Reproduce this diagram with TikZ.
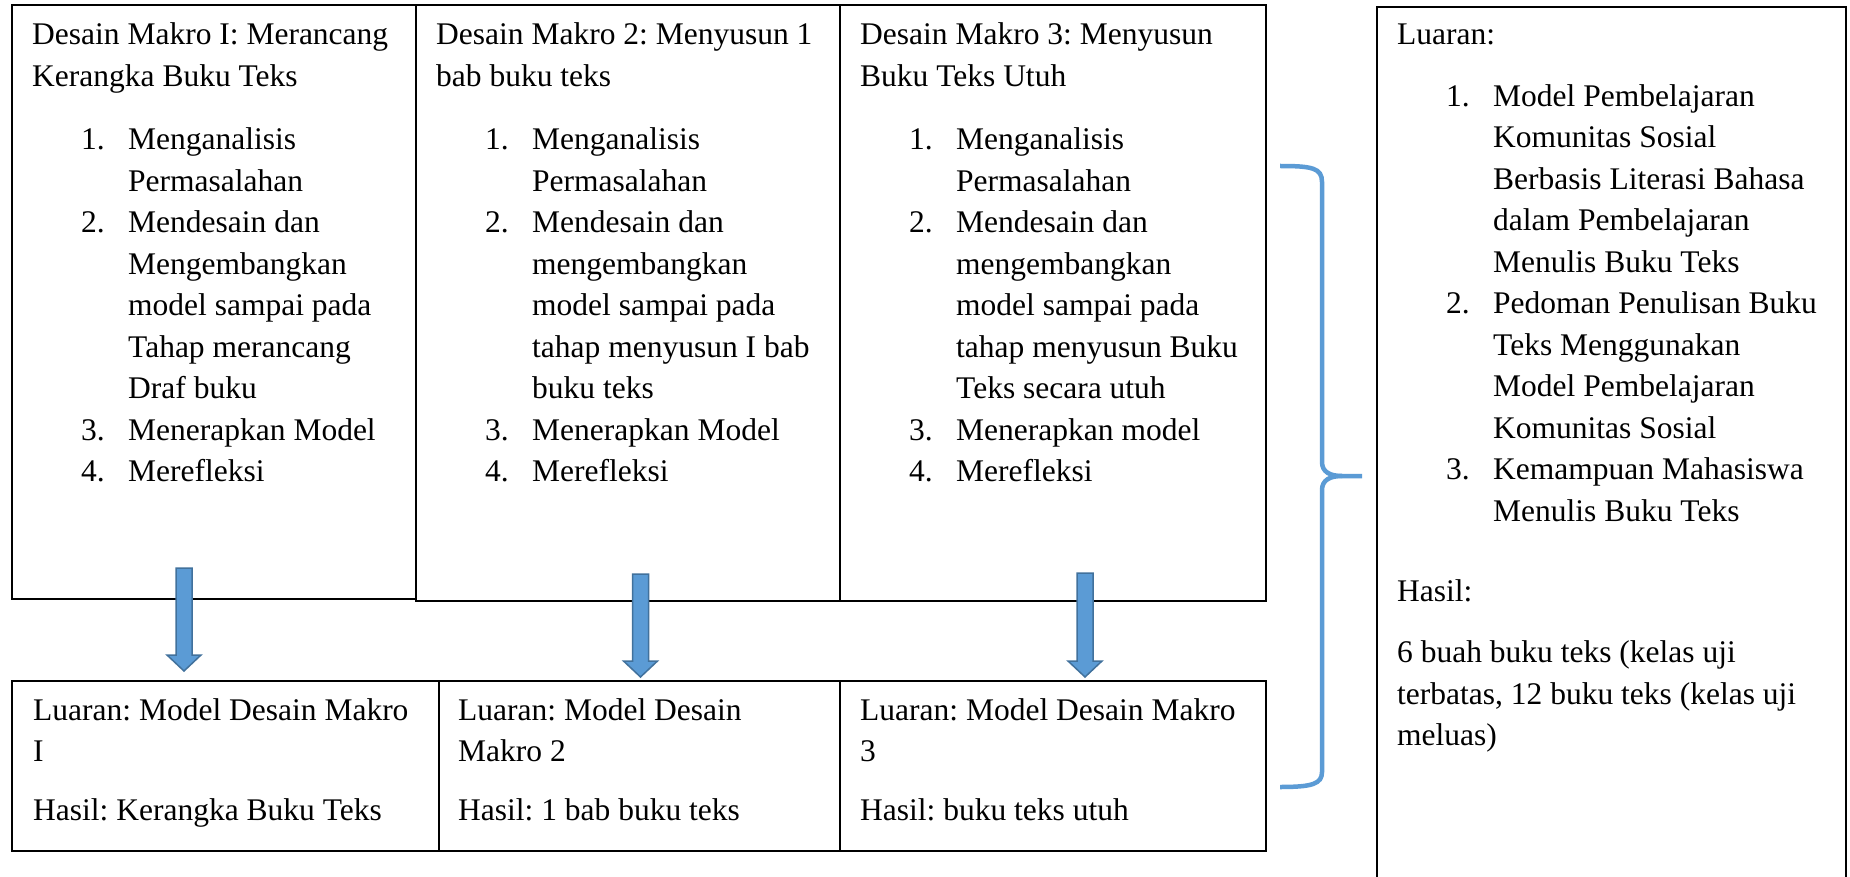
\documentclass[tikz,border=0pt]{standalone}
\usepackage{fontspec}
\setmainfont{Liberation Serif}
\usetikzlibrary{calc}
\definecolor{bracecol}{HTML}{5B9BD5}
\definecolor{arrowfill}{HTML}{5B9BD5}
\definecolor{arrowline}{HTML}{41719C}
\newcommand{\numitem}[2]{\hspace*{49pt}\makebox[47pt][l]{#1}#2}
\newcommand{\contitem}[1]{\hspace*{96pt}#1}
\newcommand{\blockarrow}[2]{%
  \filldraw[arrowst] ($(#1)+(-8,0)$) -- ($(#2)+(-8,-16)$) -- ($(#2)+(-17,-16)$) -- (#2)
    -- ($(#2)+(17,-16)$) -- ($(#2)+(8,-16)$) -- ($(#1)+(8,0)$) -- cycle;}
\frenchspacing
\begin{document}
\begin{tikzpicture}[x=1pt,y=-1pt,
  box/.style={draw, line width=1.7pt, rectangle, inner sep=0pt, outer sep=0pt, anchor=north west},
  txt/.style={anchor=base west, inner sep=0pt, font=\fontsize{31.5}{41.5}\selectfont\frenchspacing},
  arrowst/.style={fill=arrowfill, draw=arrowline, line width=1.5pt, line join=miter},
  bracest/.style={draw=bracecol, line width=4.5pt}]
\clip (0,0) rectangle (1850,877);
\fill[white] (0,0) rectangle (1850,877);

% top boxes
\node[box, minimum width=404pt, minimum height=594pt] (d1) at (12,5) {};
\node[box, minimum width=424pt, minimum height=596pt] (d2) at (416,5) {};
\node[box, minimum width=426pt, minimum height=596pt] (d3) at (840,5) {};

% bottom boxes
\node[box, minimum width=427pt, minimum height=170pt] (r1) at (12,681) {};
\node[box, minimum width=401pt, minimum height=170pt] (r2) at (439,681) {};
\node[box, minimum width=426pt, minimum height=170pt] (r3) at (840,681) {};

% right box
\node[box, minimum width=469pt, minimum height=920pt] (out) at (1377,7) {};

% texts top boxes
\node[txt] (t1) at (32,45) {\parbox[t]{440pt}{\raggedright
Desain Makro I: Merancang\\
Kerangka Buku Teks\\[22pt]
\numitem{1.}{Menganalisis}\\
\contitem{Permasalahan}\\
\numitem{2.}{Mendesain dan}\\
\contitem{Mengembangkan}\\
\contitem{model sampai pada}\\
\contitem{Tahap merancang}\\
\contitem{Draf buku}\\
\numitem{3.}{Menerapkan Model}\\
\numitem{4.}{Merefleksi}}};

\node[txt] (t2) at (436,45) {\parbox[t]{440pt}{\raggedright
Desain Makro 2: Menyusun 1\\
bab buku teks\\[22pt]
\numitem{1.}{Menganalisis}\\
\contitem{Permasalahan}\\
\numitem{2.}{Mendesain dan}\\
\contitem{mengembangkan}\\
\contitem{model sampai pada}\\
\contitem{tahap menyusun I bab}\\
\contitem{buku teks}\\
\numitem{3.}{Menerapkan Model}\\
\numitem{4.}{Merefleksi}}};

\node[txt] (t3) at (860,45) {\parbox[t]{440pt}{\raggedright
Desain Makro 3: Menyusun\\
Buku Teks Utuh\\[22pt]
\numitem{1.}{Menganalisis}\\
\contitem{Permasalahan}\\
\numitem{2.}{Mendesain dan}\\
\contitem{mengembangkan}\\
\contitem{model sampai pada}\\
\contitem{tahap menyusun Buku}\\
\contitem{Teks secara utuh}\\
\numitem{3.}{Menerapkan model}\\
\numitem{4.}{Merefleksi}}};

% texts bottom boxes
\node[txt] (u1) at (33,720) {\parbox[t]{440pt}{\raggedright
Luaran: Model Desain Makro\\
I\\[17pt]
Hasil: Kerangka Buku Teks}};
\node[txt] (u2) at (458,720) {\parbox[t]{440pt}{\raggedright
Luaran: Model Desain\\
Makro 2\\[17pt]
Hasil: 1 bab buku teks}};
\node[txt] (u3) at (860,720) {\parbox[t]{440pt}{\raggedright
Luaran: Model Desain Makro\\
3\\[17pt]
Hasil: buku teks utuh}};

% text right box
\node[txt] (v) at (1397,45) {\parbox[t]{440pt}{\raggedright
Luaran:\\[20pt]
\numitem{1.}{Model Pembelajaran}\\
\contitem{Komunitas Sosial}\\
\contitem{Berbasis Literasi Bahasa}\\
\contitem{dalam Pembelajaran}\\
\contitem{Menulis Buku Teks}\\
\numitem{2.}{Pedoman Penulisan Buku}\\
\contitem{Teks Menggunakan}\\
\contitem{Model Pembelajaran}\\
\contitem{Komunitas Sosial}\\
\numitem{3.}{Kemampuan Mahasiswa}\\
\contitem{Menulis Buku Teks}\\[39pt]
Hasil:\\[19.5pt]
6 buah buku teks (kelas uji\\
terbatas, 12 buku teks (kelas uji\\
meluas)}};

% block arrows
\coordinate (a1s) at (184,568);
\coordinate (a1e) at (184,671);
\coordinate (a2s) at (640.5,574);
\coordinate (a2e) at (640.5,677);
\coordinate (a3s) at (1085,573);
\coordinate (a3e) at (1085,677);
\blockarrow{a1s}{a1e}
\blockarrow{a2s}{a2e}
\blockarrow{a3s}{a3e}

% brace
\draw[bracest] (1280,166) .. controls (1312,166) and (1322,168) .. (1322,182)
  -- (1322,462) .. controls (1322,472) and (1330,476) .. (1342,476) -- (1362,476);
\draw[bracest] (1342,476) .. controls (1330,476) and (1322,480) .. (1322,490)
  -- (1322,772) .. controls (1322,784) and (1312,787) .. (1280,787);
\end{tikzpicture}
\end{document}
